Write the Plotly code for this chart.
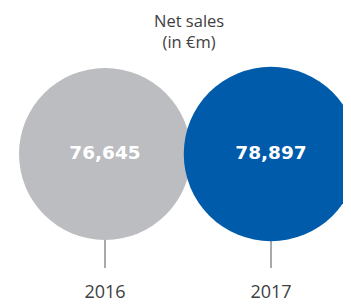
import math
import plotly.graph_objects as go

# Data
years = ["2016", "2017"]
net_sales = [76645, 78897]
value_labels = ["76,645", "78,897"]
colors = ["#BCBDC0", "#005BAB"]
title_lines = ["Net sales", "(in €m)"]

# The page body has an 8px default margin, so the figure is drawn 8px smaller
OFF = 8
W, H = 351 - OFF, 304 - OFF
FONT = "Open Sans"
TXT = "#404040"

# layout constants (reference pixels)
base_diam = 172.0
center_y = 154
line_bottom = 268
x_pos = [105, 271]
bottom_margin = 25
plot_h = H - bottom_margin

diams = [base_diam * math.sqrt(v / net_sales[0]) for v in net_sales]

fig = go.Figure()

# connector lines under the circles
for i, yr in enumerate(years):
    fig.add_trace(go.Scatter(
        x=[x_pos[i], x_pos[i]], y=[center_y, line_bottom],
        mode="lines", line=dict(color="#555555", width=1),
        hoverinfo="skip", showlegend=False))

# circles
for i, yr in enumerate(years):
    fig.add_trace(go.Scatter(
        x=[x_pos[i]], y=[center_y], mode="markers+text",
        marker=dict(size=diams[i], color=colors[i], line=dict(width=0), opacity=1),
        text=[value_labels[i]], textposition="middle center",
        textfont=dict(family="DejaVu Sans", size=18.5, color="white", weight="bold"),
        showlegend=False, name=yr))

fig.update_layout(
    width=W, height=H,
    margin=dict(l=0, r=0, t=0, b=bottom_margin),
    paper_bgcolor="white", plot_bgcolor="white",
    xaxis=dict(range=[OFF, OFF + W], showgrid=False, zeroline=False, showline=False,
               tickmode="array", tickvals=x_pos, ticktext=years, ticks="",
               tickfont=dict(family=FONT, size=18, color=TXT)),
    yaxis=dict(range=[OFF + plot_h, OFF], showgrid=False, zeroline=False, showline=False,
               showticklabels=False, ticks=""),
    annotations=[
        dict(text="<br>".join(title_lines), x=189, y=31, xref="x", yref="y",
             showarrow=False, align="center",
             font=dict(family=FONT, size=16.5, color=TXT), yanchor="middle",
             borderpad=0),
    ],
)

fig.write_html("out.html")
